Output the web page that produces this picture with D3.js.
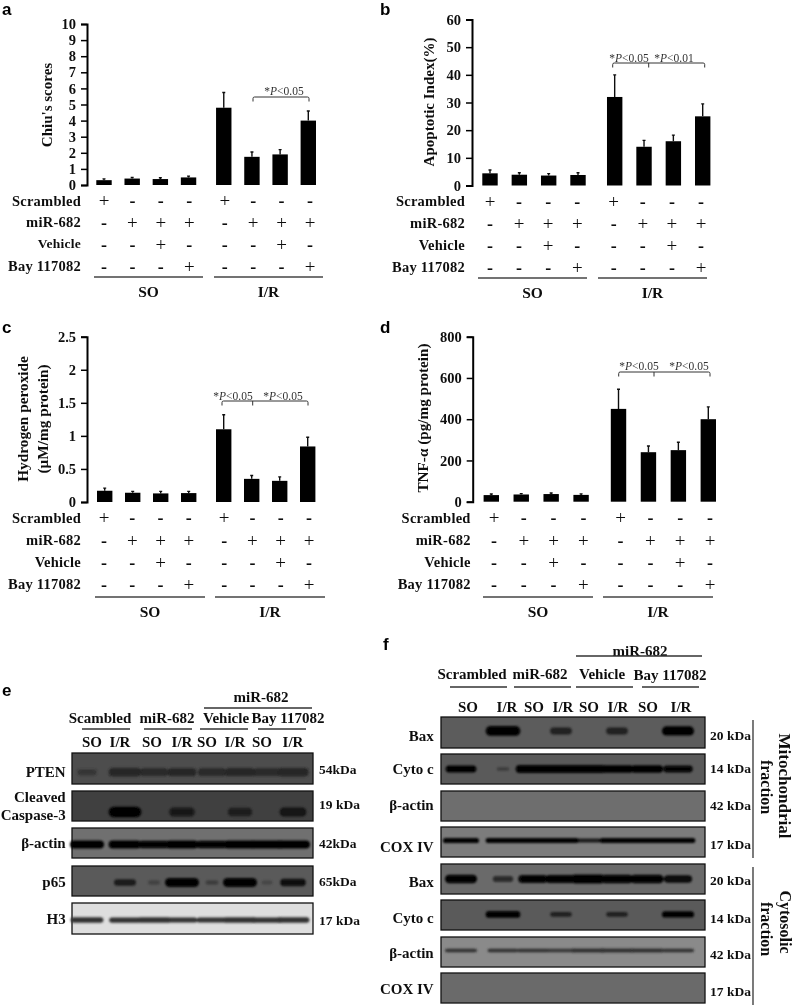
<!DOCTYPE html>
<html><head><meta charset="utf-8">
<script src="https://cdn.jsdelivr.net/npm/d3@7"></script>
<style>
html,body{margin:0;padding:0;background:#fff}
svg{display:block}
text{font-family:"Liberation Serif",serif;font-weight:bold;fill:#111}
.lab{font-family:"Liberation Sans",sans-serif;font-size:17px;fill:#000}
.ann{font-weight:normal;font-size:11.5px;fill:#333}
</style></head><body>
<script>
// ---- data ----
const rowNames = ["Scrambled","miR-682","Vehicle","Bay 117082"];
const groupNames = ["SO","I/R"];
const scrambledRow = ["+","-","-","-","+","-","-","-"];
const mirRow       = ["-","+","+","+","-","+","+","+"];
const vehicleRow   = ["-","-","+","-","-","-","+","-"];
const bayRow       = ["-","-","-","+","-","-","-","+"];
const signRows = [scrambledRow,mirRow,vehicleRow,bayRow];

const aValues = [0.3,0.4,0.37,0.47,4.8,1.75,1.9,4.0];
const aTops   = [0.38,0.47,0.45,0.55,5.75,2.05,2.2,4.6];
const aTicks  = [0,1,2,3,4,5,6,7,8,9,10];
const bValues = [4.4,3.9,3.6,3.8,32,14,16,25];
const bTops   = [5.6,4.6,4.3,4.6,40,16.3,18.2,29.5];
const bTicks  = [0,10,20,30,40,50,60];
const cValues = [0.17,0.14,0.13,0.135,1.1,0.35,0.32,0.84];
const cTops   = [0.21,0.16,0.16,0.16,1.32,0.4,0.38,0.98];
const cTicks  = [0,0.5,1,1.5,2,2.5];
const dValues = [32,35,37,33,450,240,250,400];
const dTops   = [37,39,42,38,545,270,288,460];
const dTicks  = [0,200,400,600,800];

const eTopGroups = ["Scambled","miR-682","Vehicle","Bay 117082"];
const fTopGroups = ["Scrambled","miR-682","Vehicle","Bay 117082"];
const laneNames = ["SO","I/R","SO","I/R","SO","I/R","SO","I/R"];
const eRows = ["PTEN","Cleaved|Caspase-3","β-actin","p65","H3"];
const eKda  = ["54kDa","19 kDa","42kDa","65kDa","17 kDa"];
const ePTEN=[.4,.95,.75,.8,.75,.85,.75,.9], eCasp=[0,.95,0,.65,0,.6,0,.7], eActin=[1,.95,.9,.95,.9,.95,1,1], eP65=[0,.5,.08,1,.12,1,.04,.65], eH3=[.95,.9,.95,.85,.85,.95,.9,.95];
const fRows = ["Bax","Cyto c","β-actin","COX IV","Bax","Cyto c","β-actin","COX IV"];
const fKda  = ["20 kDa","14 kDa","42 kDa","17 kDa","20 kDa","14 kDa","42 kDa","17 kDa"];
const fBax=[0,.95,0,.45,0,.45,0,.85], fCyto=[.8,.1,.95,.95,.95,.9,.85,.75], fActin=[0,0,0,0,0,0,0,0], fCox=[1,.95,.95,.95,.6,.95,.95,.95];
const fBax2=[.85,.4,.75,.8,.95,.85,.9,.7], fCyto2=[0,.95,0,.45,0,.45,0,.85], fActin2=[.85,.8,.85,.75,.9,.9,.9,.85], fCox2=[0,0,0,0,0,0,0,0];

// ---- layout ----
const slots = [0,1,2,3,4.25,5.25,6.25,7.25];
const W=793,H=1006;
const svg=d3.select("body").append("svg").attr("width",W).attr("height",H).attr("viewBox",`0 0 ${W} ${H}`);
const defs=svg.append("defs");
defs.append("filter").attr("id","soft").attr("x","-2%").attr("y","-2%").attr("width","104%").attr("height","104%")
  .append("feGaussianBlur").attr("stdDeviation",0.45);
defs.append("filter").attr("id","bandBlur").attr("x","-40%").attr("y","-80%").attr("width","180%").attr("height","260%")
  .append("feGaussianBlur").attr("stdDeviation",1.1);
const root=svg.append("g").attr("filter","url(#soft)");
root.append("rect").attr("width",W).attr("height",H).attr("fill","#fff");

function panel(o){
  const g=root.append("g");
  const y=d3.scaleLinear().domain(o.domain).range([o.y0,o.yTop]);
  const x=d3.scaleLinear().domain([0,7.25]).range([o.first,o.last]);
  const sx=d3.scaleLinear().domain([0,7.25]).range([o.signFirst,o.signLast]);
  const ax=g.append("g").attr("transform",`translate(${o.axisX},0)`)
    .call(d3.axisLeft(y).tickValues(o.ticks).tickSize(6).tickPadding(5).tickFormat(d=>String(d)));
  ax.selectAll("path").attr("stroke","#000").attr("stroke-width",2);
  ax.selectAll("line").attr("stroke","#000").attr("stroke-width",1.5);
  ax.selectAll("text").attr("font-size",14.5).attr("fill","#111").style("font-family","Liberation Serif");
  g.selectAll(".err").data(o.tops).join("path")
    .attr("d",(d,i)=>`M${x(slots[i])},${y(o.values[i])}V${y(d)}M${x(slots[i])-1.5},${y(d)}H${x(slots[i])+1.5}`)
    .attr("stroke","#111").attr("stroke-width",1.4).attr("fill","none");
  g.selectAll(".bar").data(o.values).join("rect")
    .attr("x",(d,i)=>x(slots[i])-7.7).attr("width",15.4)
    .attr("y",d=>y(d)).attr("height",d=>o.y0-y(d)).attr("fill","#000");
  rowNames.forEach((name,r)=>{
    g.append("text").attr("x",o.rowX).attr("y",o.rowY[r]).attr("dy","0.33em")
      .attr("text-anchor","end").attr("font-size",o.rowSize?o.rowSize[r]:14.5).style("letter-spacing","0.25px").text(name);
    g.selectAll(null).data(signRows[r]).join("text")
      .attr("x",(d,i)=>sx(slots[i])).attr("y",o.rowY[r]+(r?1:0)).attr("dy",d=>d==="+"?"0.33em":"0.36em")
      .attr("text-anchor","middle").attr("font-size",d=>d==="+"?19:18)
      .style("font-weight",d=>d==="+"?"normal":"bold").attr("fill","#222").text(d=>d);
  });
  o.lines.forEach((l,i)=>{
    g.append("line").attr("x1",l[0]).attr("x2",l[1]).attr("y1",o.lineY).attr("y2",o.lineY).attr("stroke","#444").attr("stroke-width",1.3);
    g.append("text").attr("x",(l[0]+l[1])/2).attr("y",o.lineY+15).attr("dy","0.33em").attr("text-anchor","middle").attr("font-size",15.5).text(groupNames[i]);
  });
  o.ylab.forEach(t=>{
    g.append("text").attr("transform",`translate(${t.x},${t.y}) rotate(-90)`).attr("text-anchor","middle").attr("dy","0.33em").attr("font-size",t.size).text(t.s);
  });
  const b=o.bracket, path=`M${b.xs[0]},${b.y+4.5}V${b.y+1.5}Q${b.xs[0]},${b.y} ${b.xs[0]+1.5},${b.y}H${b.xs[b.xs.length-1]-1.5}Q${b.xs[b.xs.length-1]},${b.y} ${b.xs[b.xs.length-1]},${b.y+1.5}V${b.y+4.5}`+(b.mid?`M${b.mid},${b.y}V${b.y+4.5}`:"");
  g.append("path").attr("d",path).attr("fill","none").attr("stroke","#333").attr("stroke-width",1);
  b.labels.forEach(l=>{
    const t=g.append("text").attr("class","ann").attr("x",l.x).attr("y",b.textY).attr("text-anchor","middle");
    t.append("tspan").text("*");
    t.append("tspan").attr("font-style","italic").text("P");
    t.append("tspan").text(l.s);
  });
  g.append("text").attr("class","lab").attr("x",o.tag[1]).attr("y",o.tag[2]).text(o.tag[0]);
}

panel({tag:["a",2,15],domain:[0,10],values:aValues,tops:aTops,ticks:aTicks,axisX:87,y0:185,yTop:24,first:104,last:308.3,signFirst:104,signLast:310,
  rowX:81,rowY:[201,222,244,266],rowSize:[14.5,14.5,13.5,14.5],lineY:277,lines:[[94,203],[214,323]],
  ylab:[{s:"Chiu's scores",x:47,y:105,size:15}],
  bracket:{xs:[253,309],y:97,textY:95,labels:[{x:284,s:"<0.05"}]}});
panel({tag:["b",380,15],domain:[0,60],values:bValues,tops:bTops,ticks:bTicks,axisX:472,y0:185.5,yTop:19.5,first:490,last:702.7,signFirst:490,signLast:701,
  rowX:465,rowY:[201.5,223,245,267],lineY:278,lines:[[478,587],[598,707]],
  ylab:[{s:"Apoptotic Index(%)",x:429,y:102,size:15}],
  bracket:{xs:[612.7,704.7],mid:648.7,y:63,textY:62,labels:[{x:629,s:"<0.05"},{x:674,s:"<0.01"}]}});
panel({tag:["c",2,333],domain:[0,2.5],values:cValues,tops:cTops,ticks:cTicks,axisX:87,y0:502,yTop:336.7,first:104.7,last:307.7,signFirst:104,signLast:309,
  rowX:81,rowY:[518,540,562,584],lineY:597,lines:[[95,205],[215,325]],
  ylab:[{s:"Hydrogen peroxide",x:23,y:419,size:15.3},{s:"(μM/mg protein)",x:43,y:419,size:15.3}],
  bracket:{xs:[222,308],mid:252.7,y:401,textY:400,labels:[{x:233,s:"<0.05"},{x:283,s:"<0.05"}]}});
panel({tag:["d",380,333],domain:[0,800],values:dValues,tops:dTops,ticks:dTicks,axisX:472.7,y0:501.7,yTop:336.7,first:491.3,last:708.3,signFirst:494,signLast:710,
  rowX:470.7,rowY:[518,540,562,584],lineY:597,lines:[[483,593],[603,713]],
  ylab:[{s:"TNF-α (pg/mg protein)",x:423,y:418,size:15.2}],
  bracket:{xs:[618.7,710],mid:654,y:372,textY:370,labels:[{x:639,s:"<0.05"},{x:689,s:"<0.05"}]}});

function blots(o){
  const g=root.append("g");
  const lane=d3.scaleOrdinal().domain(d3.range(8)).range(o.bandX);
  const rx=d3.scaleLinear().domain([0,1]).range([5,o.maxRx]);
  o.rows.forEach((r,i)=>{
    const [y0,y1]=r.span;
    g.append("rect").attr("x",o.x0).attr("y",y0).attr("width",o.x1-o.x0).attr("height",y1-y0)
      .attr("fill",r.bg).attr("stroke","#111").attr("stroke-width",1.3);
    const cy=y0+(y1-y0)*r.pos;
    const bh=d=>r.t*(.45+.55*d.s);
    const op=d=>r.soft?Math.min(1,.1+1.2*d.s*d.s):Math.min(1,.2+d.s);
    g.append("g").attr("filter","url(#bandBlur)").selectAll("rect")
      .data(r.s.map((s,k)=>({s,k})).filter(d=>d.s>0)).join("rect")
      .attr("x",d=>lane(d.k)-rx(d.s)).attr("width",d=>2*rx(d.s))
      .attr("y",d=>cy-bh(d)).attr("height",d=>2*bh(d)).attr("rx",d=>bh(d)).attr("ry",d=>bh(d))
      .attr("fill",r.band||"#000").attr("opacity",op);
    const names=o.names[i].split("|");
    names.forEach((n,k)=>{
      g.append("text").attr("x",o.nameX).attr("y",o.nameY[i]+k*18).attr("dy","0.33em").attr("text-anchor","end").attr("font-size",15).text(n);
    });
    g.append("text").attr("x",o.kdaX).attr("y",o.kdaY[i]).attr("dy","0.33em").attr("font-size",13.5).text(o.kda[i]);
  });
  o.labX.forEach((x,i)=>g.append("text").attr("x",x).attr("y",o.laneY).attr("dy","0.33em").attr("text-anchor","middle").attr("font-size",15).text(laneNames[i]));
  o.groupX.forEach((x,i)=>{
    g.append("text").attr("x",x).attr("y",o.groupY[i]).attr("dy","0.33em").attr("text-anchor","middle").attr("font-size",15).text(o.groups[i]);
    const u=o.under[i];
    g.append("line").attr("x1",u[0]).attr("x2",u[1]).attr("y1",o.underY).attr("y2",o.underY).attr("stroke","#333").attr("stroke-width",1.3);
  });
  g.append("text").attr("x",o.topX).attr("y",o.topY).attr("dy","0.33em").attr("text-anchor","middle").attr("font-size",15).text("miR-682");
  g.append("line").attr("x1",o.topLine[0]).attr("x2",o.topLine[1]).attr("y1",o.topLine[2]).attr("y2",o.topLine[2]).attr("stroke","#333").attr("stroke-width",1.3);
  g.append("text").attr("class","lab").attr("x",o.tag[1]).attr("y",o.tag[2]).text(o.tag[0]);
}

blots({tag:["e",2,696],x0:72,x1:313,bandX:[87,125,154,182,212,240,267,293],maxRx:17,
  labX:[92,120,152,182,207,235,262,293],laneY:742,groups:eTopGroups,groupX:[100,167,226,288],groupY:[718,718,718,718],underY:729,
  under:[[82,130],[144,192],[200,248],[258,306]],topX:261,topY:697,topLine:[204,312,708],
  names:eRows,kda:eKda,nameX:65.7,nameY:[772,797,843,882,919],kdaX:319,kdaY:[770,805,844,882,921],
  rows:[{span:[753,784],bg:"#4d4d4d",band:"#262626",pos:.62,t:4.5,s:ePTEN},
        {span:[791,821],bg:"#3f3f3f",pos:.7,t:5.5,s:eCasp,soft:true},
        {span:[828,858],bg:"#707070",pos:.55,t:4,s:eActin},
        {span:[866,896],bg:"#5a5a5a",pos:.55,t:4.5,s:eP65},
        {span:[903,934],bg:"#dedede",band:"#333",pos:.55,t:2.8,s:eH3}]});

blots({tag:["f",383,650],x0:441,x1:705,bandX:[461,503,533,561,588,617,647,678],maxRx:18,
  labX:[468,507,534,563,589,618,648,681],laneY:707,groups:fTopGroups,groupX:[472,540,602,670],groupY:[674,674,674,675],underY:687,
  under:[[450,507],[514,571],[576,633],[642,699]],topX:640,topY:651,topLine:[576,702,656],
  names:fRows,kda:fKda,nameX:433.7,nameY:[736,769,805,847,882,918,953,989],kdaX:710,kdaY:[736,769,806,845,881,919,955,992],
  rows:[{span:[717,748],bg:"#5b5b5b",pos:.45,t:5,s:fBax},
        {span:[754,784],bg:"#5a5a5a",pos:.5,t:4,s:fCyto},
        {span:[791,821],bg:"#6e6e6e",pos:.5,t:3,s:fActin},
        {span:[827,857],bg:"#7b7b7b",pos:.45,t:2.6,s:fCox},
        {span:[864,894],bg:"#6a6a6a",pos:.5,t:4.5,s:fBax2},
        {span:[900,930],bg:"#5a5a5a",pos:.48,t:3.5,s:fCyto2},
        {span:[937,967],bg:"#8a8a8a",band:"#333",pos:.45,t:2,s:fActin2},
        {span:[973,1003],bg:"#6a6a6a",pos:.5,t:3,s:fCox2}]});

[[720,858],[867,1005]].forEach(v=>root.append("line").attr("x1",753).attr("x2",753).attr("y1",v[0]).attr("y2",v[1]).attr("stroke","#333").attr("stroke-width",1.3));
[{s:"Mitochondrial",x:785,y:786,z:17},{s:"fraction",x:766,y:787,z:16},{s:"Cytosolic",x:785,y:922,z:16},{s:"fraction",x:766,y:929,z:16}].forEach(t=>{
  root.append("text").attr("transform",`translate(${t.x},${t.y}) rotate(90)`).attr("text-anchor","middle").attr("dy","0.33em").attr("font-size",t.z).text(t.s);
});
</script></body></html>
